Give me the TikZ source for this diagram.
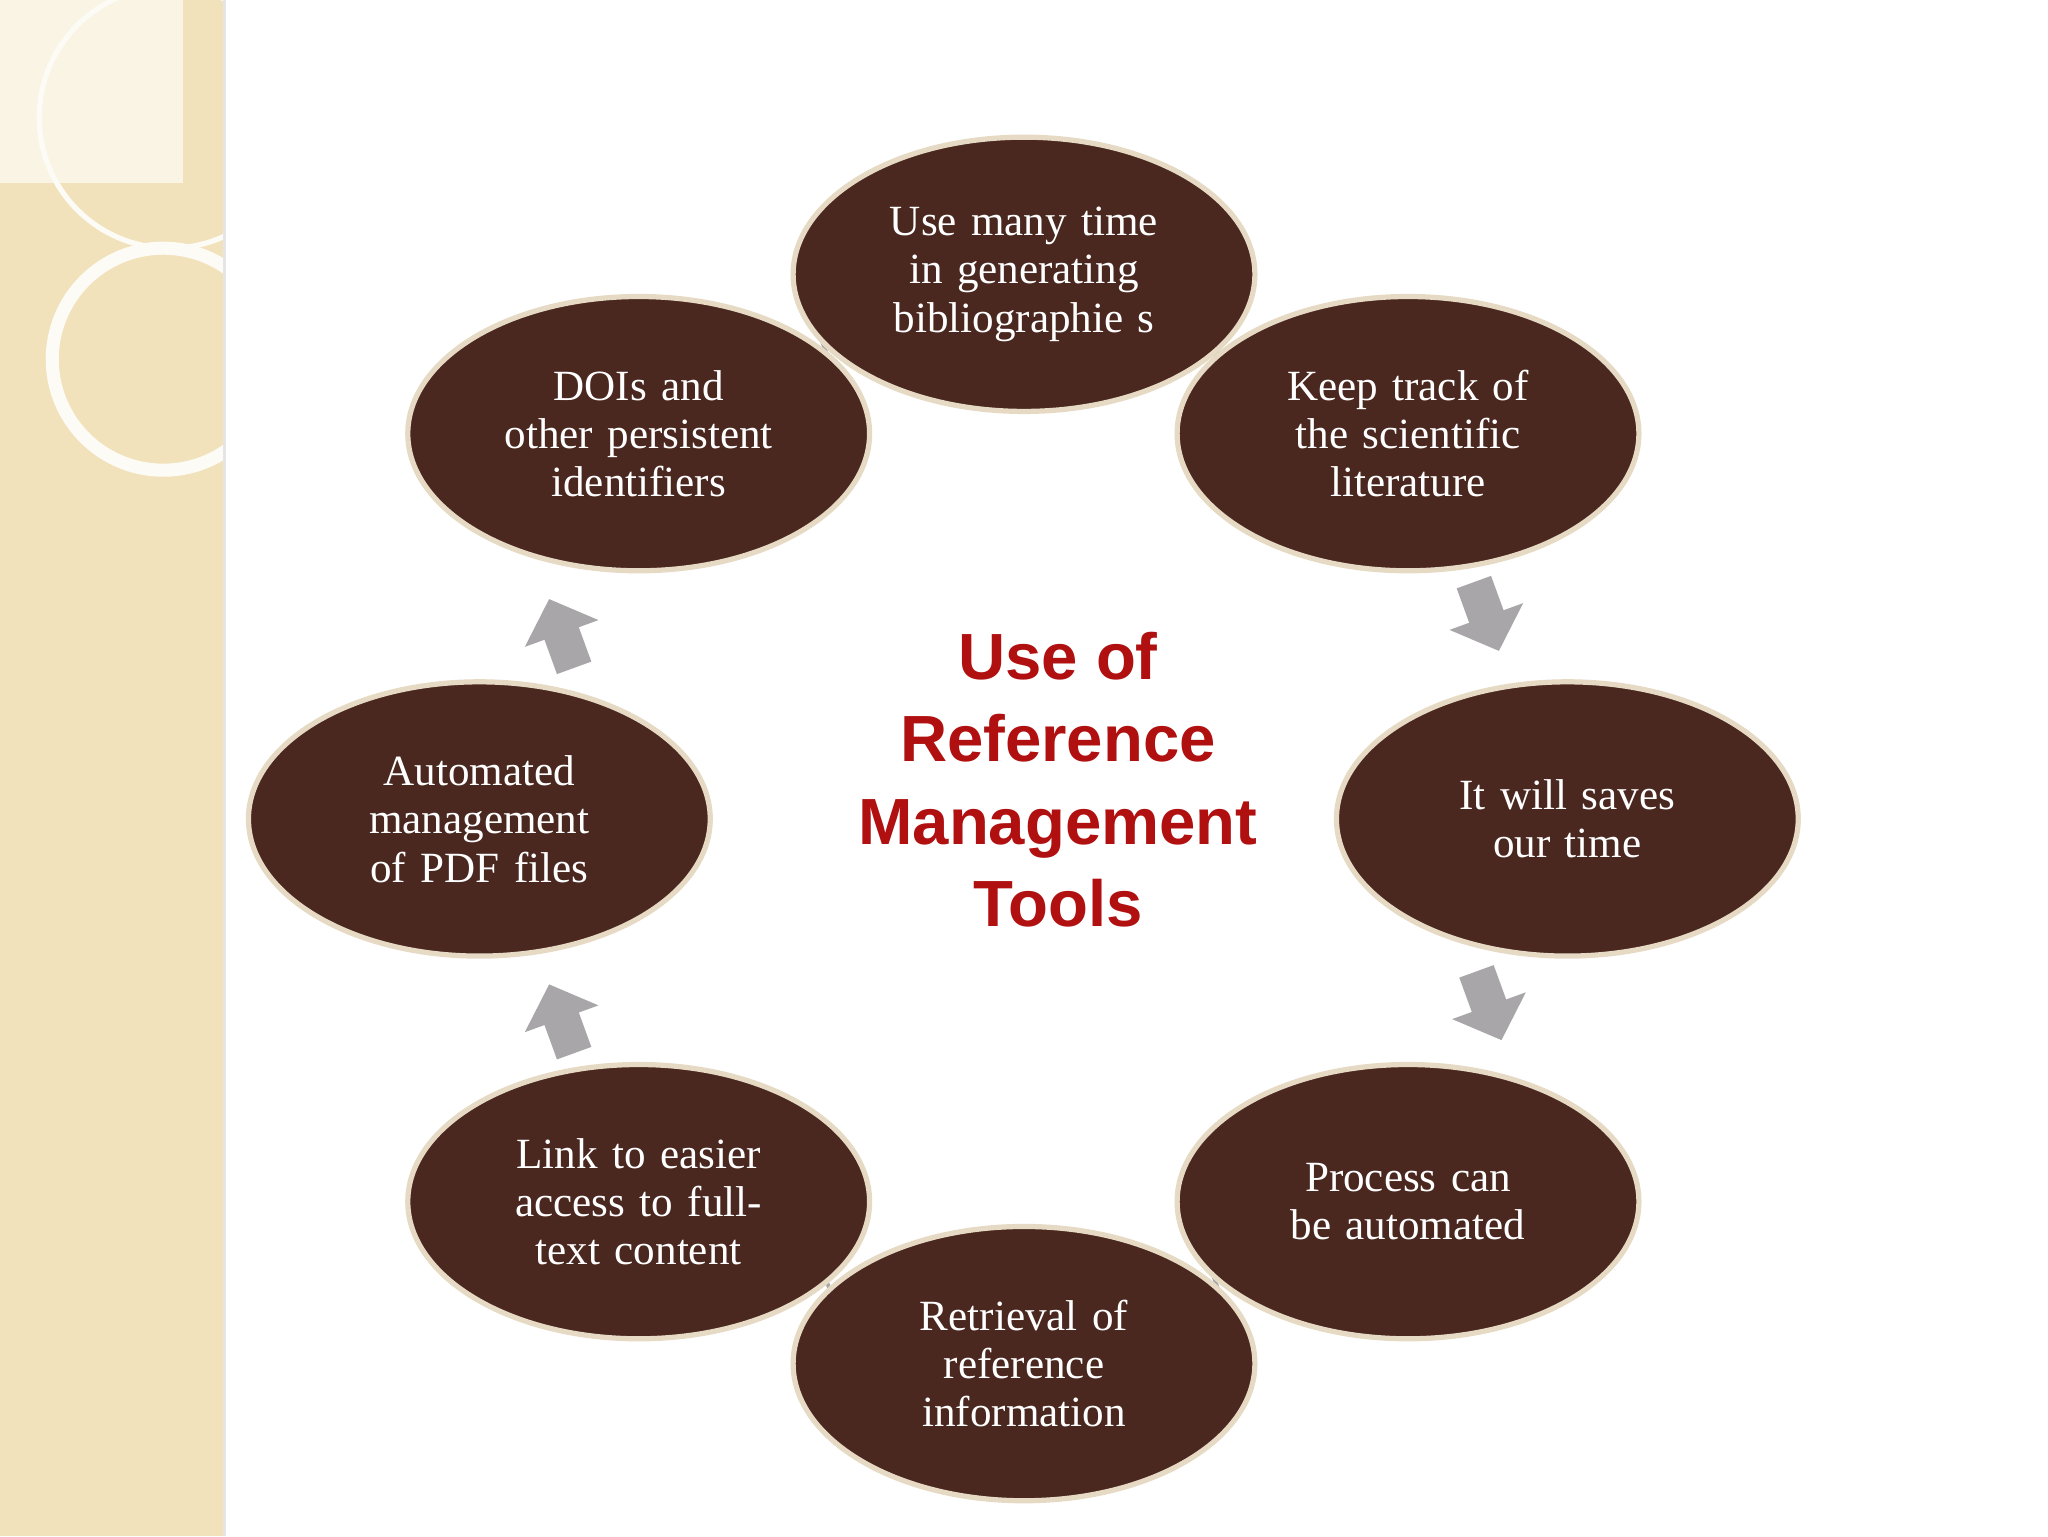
\documentclass[tikz,border=0pt]{standalone}
\usepackage{fontspec}
\setmainfont{Liberation Serif}
\setsansfont{Liberation Sans}
\usetikzlibrary{shapes.geometric}
\definecolor{brownfill}{HTML}{4A2820}
\definecolor{rimcol}{HTML}{E6DAC4}
\definecolor{titlered}{HTML}{B01010}
\definecolor{panel}{HTML}{F1E2BC}
\definecolor{arrgray}{HTML}{A8A6A8}
\tikzset{
 bubble/.style={ellipse,fill=brownfill,draw=rimcol,line width=4pt,minimum width=336pt,minimum height=210pt,inner sep=0pt,text width=250pt,align=center,text=white,font=\fontsize{33}{37}\selectfont},
 blockarrow/.style={fill=arrgray,draw=none}
}
\begin{document}
\begin{tikzpicture}[x=1pt,y=-1pt]
\useasboundingbox (0,0) rectangle (1568,1176);
\fill[white] (0,0) rectangle (1568,1176);
\fill[panel] (0,0) rectangle (172,1176);
\fill[white!60!panel] (0,0) rectangle (140,140);
\begin{scope}
\clip (0,0) rectangle (172,1176);
\draw[white!85!panel,line width=4pt] (130,90) circle (100);
\draw[white!85!panel,line width=10pt] (125,275) circle (85);
\end{scope}
\draw[white!80!gray,line width=2pt] (172,0) -- (172,1176);
% small connectors
\draw[arrgray,line width=3pt] (627,255) -- (640,290);
\draw[arrgray,line width=3pt] (937,255) -- (925,290);
\draw[arrgray,line width=3pt] (627,965) -- (640,1000);
\draw[arrgray,line width=3pt] (925,965) -- (937,1000);
\node[bubble] (n1) at (784,210) {Use many time in generating bibliographie s};
\node[bubble] (n2) at (1078,332) {Keep track of the scientific literature};
\node[bubble] (n3) at (1200,627) {It will saves our time};
\node[bubble] (n4) at (1078,920) {Process can be automated};
\node[bubble] (n5) at (784,1044) {Retrieval of reference information};
\node[bubble] (n6) at (489,920) {Link to easier access to full-text content};
\node[bubble] (n7) at (367,627) {Automated management of PDF files};
\node[bubble] (n8) at (489,332) {DOIs and other persistent identifiers};
\node[font=\sffamily\bfseries\fontsize{50}{63}\selectfont,text=titlered,align=center] (title) at (810,597) {Use of\\Reference\\Management\\Tools};
\foreach \p/\r in {{1138,472}/200,{1140,770}/200,{430,780}/20,{430,485}/20}{
 \fill[blockarrow,shift={(\p)},rotate=\r] (-14,28) -- (14,28) -- (14,0) -- (30,0) -- (0,-28) -- (-30,0) -- (-14,0) -- cycle;
}
\end{tikzpicture}
\end{document}
